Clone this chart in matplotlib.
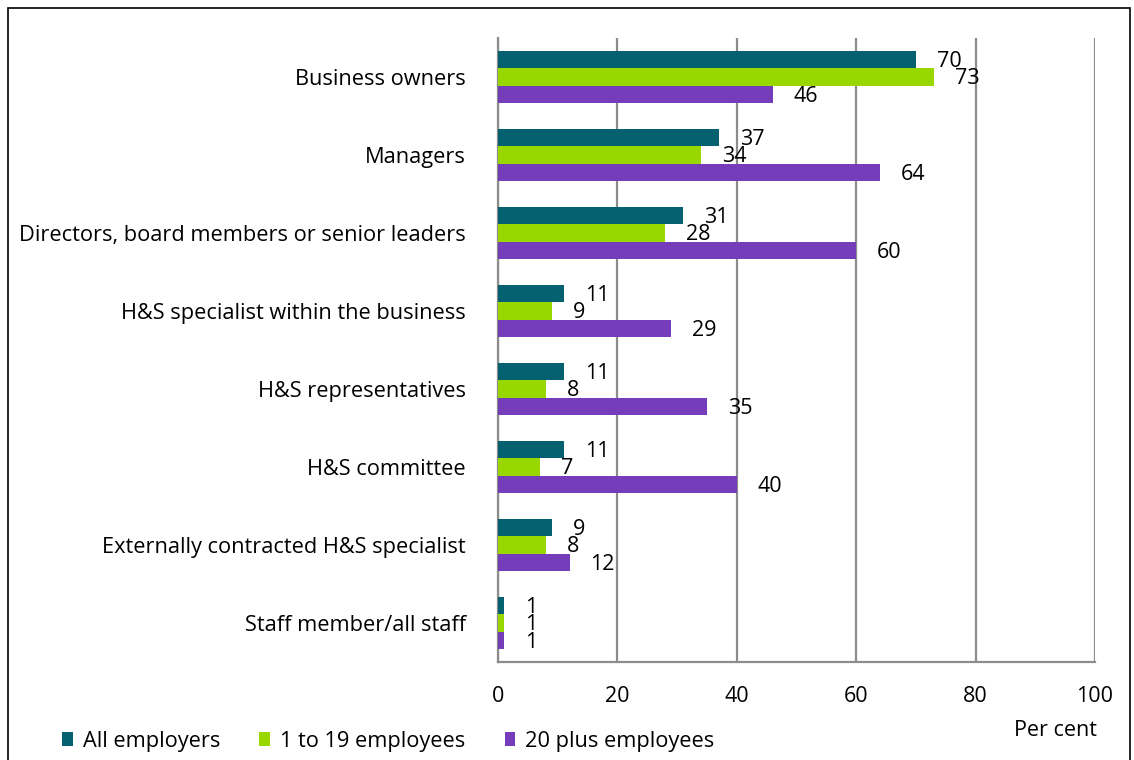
import numpy as np
import matplotlib.pyplot as plt
from matplotlib.patches import Rectangle

categories = [
    "Business owners",
    "Managers",
    "Directors, board members or senior leaders",
    "H&S specialist within the business",
    "H&S representatives",
    "H&S committee",
    "Externally contracted H&S specialist",
    "Staff member/all staff",
]
all_employers = [70, 37, 31, 11, 11, 11, 9, 1]
small_firms = [73, 34, 28, 9, 8, 7, 8, 1]
large_firms = [46, 64, 60, 29, 35, 40, 12, 1]
series_names = ["All employers", "1 to 19 employees", "20 plus employees"]
colors = ["#05616F", "#99D700", "#763DBB"]

plt.rcParams["font.family"] = ["Open Sans", "DejaVu Sans"]

W, H = 1134, 760
fig = plt.figure(figsize=(W / 100, H / 100), dpi=100)
ax = fig.add_axes([498 / W, 1 - 662 / H, (1095 - 498) / W, (662 - 38) / H])

y = np.arange(len(categories))
h = 0.225
for k, (vals, name, c) in enumerate(zip([all_employers, small_firms, large_firms], series_names, colors)):
    pos = y + (k - 1) * h
    ax.barh(pos, vals, height=h, color=c, label=name, zorder=3)
    for p, v in zip(pos, vals):
        ax.text(v + 3.5, p + 0.02, str(v), va="center", ha="left", fontsize=15.5, color="black", zorder=4)

ax.set_xlim(0, 100)
ax.set_ylim(len(categories) - 0.5, -0.5)
ax.set_yticks(y)
ax.set_yticklabels(categories, fontsize=15.7)
ax.set_xticks(range(0, 101, 20))
ax.tick_params(axis="x", labelsize=15.5, length=0, pad=17)
ax.tick_params(axis="y", length=0, pad=23)
ax.grid(axis="x", color="#8c8c8c", linewidth=1.6, zorder=0)
for s in ["top", "right"]:
    ax.spines[s].set_visible(False)
for s in ["left", "bottom"]:
    ax.spines[s].set_color("#8c8c8c")
    ax.spines[s].set_linewidth(1.6)

fig.text(1055 / W, 1 - 730 / H, "Per cent", fontsize=15.5, ha="center", va="center")
fig.legend(loc="center left", bbox_to_anchor=(62 / W, 1 - 741 / H), ncol=3, frameon=False,
           fontsize=15.7, handlelength=0.5, handleheight=0.6, handletextpad=0.45, columnspacing=1.8,
           borderaxespad=0, borderpad=0)

fig.patches.append(Rectangle((8 / W, -0.1), (1130 - 8) / W, 1 - 8 / H + 0.1, transform=fig.transFigure,
                             fill=False, edgecolor="black", linewidth=1.2))

fig.savefig("out.png", dpi=100)
